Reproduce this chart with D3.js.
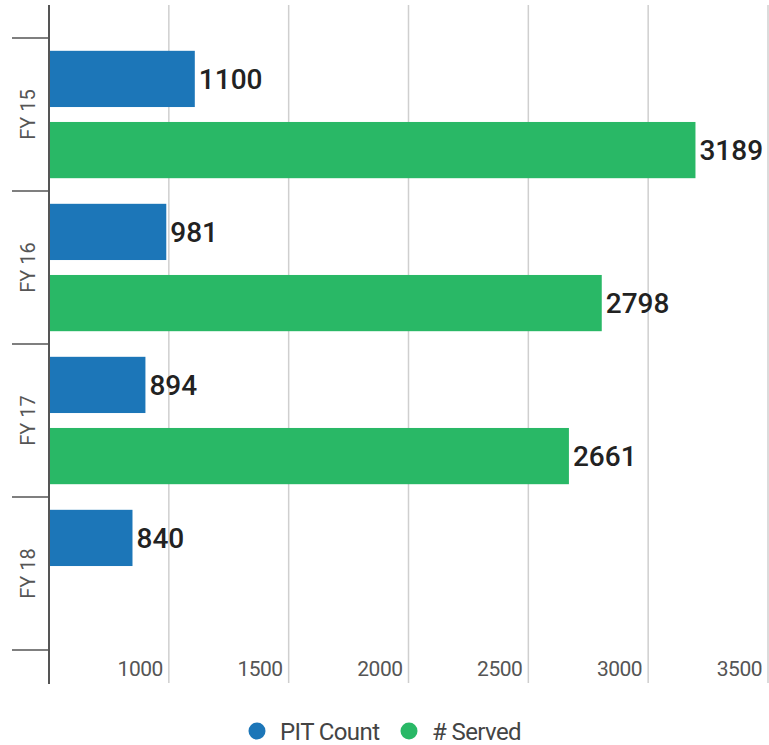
<!DOCTYPE html>
<html>
<head>
<meta charset="utf-8">
<script src="https://cdn.jsdelivr.net/npm/d3@7"></script>
<style>
  body { margin: 0; background: #fff; }
  svg { display: block; font-family: Roboto, "Noto Sans", sans-serif; }
</style>
</head>
<body>
<div id="chart"></div>
<script>
var categories = ['FY 15', 'FY 16', 'FY 17', 'FY 18'];
var seriesNames = ['PIT Count', '# Served'];
var pitCount = [1100, 981, 894, 840];
var served = [3189, 2798, 2661, null];
var xTicks = [1000, 1500, 2000, 2500, 3000, 3500];
var colors = ['#1c76b8', '#29b866'];

var width = 769, height = 745;

var svg = d3.select('#chart').append('svg')
	.attr('width', width)
	.attr('height', height);

var x = d3.scaleLinear()
	.domain([500, 3500])
	.range([49, 768]);

var y = d3.scaleBand()
	.domain(categories)
	.range([38, 650]);

var ySub = d3.scaleBand()
	.domain(seriesNames)
	.range([0, y.bandwidth()])
	.paddingInner(0.21)
	.paddingOuter(0.18);

var data = categories.map(function(c, i){
	return {cat: c, values: [pitCount[i], served[i]]};
});

// gridlines
svg.append('g')
	.selectAll('line')
	.data(xTicks)
	.enter().append('line')
	.attr('x1', d => x(d)).attr('x2', d => x(d))
	.attr('y1', 5).attr('y2', 683)
	.attr('stroke', '#cfcfcf')
	.attr('stroke-width', 1.5);

// x tick labels, sitting just left of their gridline
svg.append('g')
	.selectAll('text')
	.data(xTicks)
	.enter().append('text')
	.attr('x', d => x(d) - 6)
	.attr('y', 676)
	.attr('text-anchor', 'end')
	.attr('fill', '#555')
	.attr('font-size', 21)
	.attr('letter-spacing', -0.5)
	.text(d => d);

// bars
var groups = svg.append('g')
	.selectAll('g')
	.data(data)
	.enter().append('g')
	.attr('transform', d => 'translate(0,' + y(d.cat) + ')');

groups.each(function(d){
	var g = d3.select(this);
	d.values.forEach(function(v, j){
		if(v == null) return;
		var name = seriesNames[j];
		g.append('rect')
			.attr('x', x(500))
			.attr('y', ySub(name))
			.attr('width', x(v) - x(500) + 2)
			.attr('height', ySub.bandwidth())
			.attr('fill', colors[j]);
		g.append('text')
			.attr('x', x(v) + 6)
			.attr('y', ySub(name) + ySub.bandwidth() / 2)
			.attr('dy', '0.36em')
			.attr('font-size', 28)
			.attr('font-weight', 500)
			.attr('fill', '#222')
			.text(v);
	});
});

// y axis line
svg.append('line')
	.attr('x1', 49).attr('x2', 49)
	.attr('y1', 5).attr('y2', 684)
	.attr('stroke', '#555')
	.attr('stroke-width', 2);

// category boundary ticks
var bounds = categories.map(c => y(c)).concat([y.range()[1]]);
svg.append('g')
	.selectAll('line')
	.data(bounds)
	.enter().append('line')
	.attr('x1', 12).attr('x2', 49)
	.attr('y1', d => d).attr('y2', d => d)
	.attr('stroke', '#555')
	.attr('stroke-width', 1.5);

// category labels
svg.append('g')
	.selectAll('text')
	.data(categories)
	.enter().append('text')
	.attr('transform', d => 'translate(35,' + (y(d) + y.bandwidth() / 2) + ') rotate(-90)')
	.attr('text-anchor', 'middle')
	.attr('fill', '#555')
	.attr('font-size', 20)
	.text(d => d);

// legend
var legend = svg.append('g').attr('transform', 'translate(257,731)');
var lx = [0, 152];
seriesNames.forEach(function(n, i){
	var item = legend.append('g').attr('transform', 'translate(' + lx[i] + ',0)');
	item.append('circle')
		.attr('r', 8.5)
		.attr('fill', colors[i]);
	item.append('text')
		.attr('x', 23)
		.attr('dy', '0.36em')
		.attr('font-size', 24)
		.attr('letter-spacing', -0.6)
		.attr('fill', '#444')
		.text(n);
});
</script>
</body>
</html>
